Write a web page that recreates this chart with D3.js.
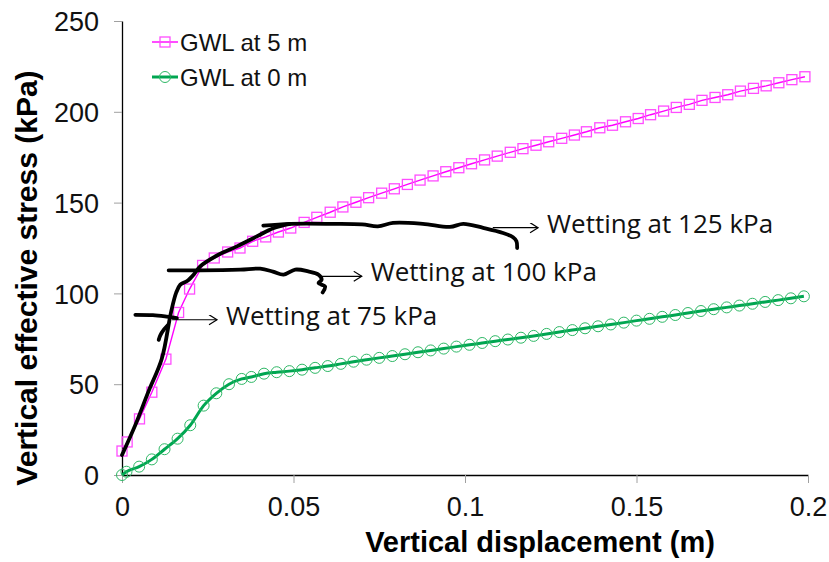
<!DOCTYPE html>
<html>
<head>
<meta charset="utf-8">
<script src="https://cdn.jsdelivr.net/npm/d3@7"></script>
<style>
body { margin: 0; background: #fff; }
text { font-family: 'Liberation Sans', Arial, sans-serif; }
.note { font-family: 'Open Sans', 'Noto Sans', sans-serif; }
</style>
</head>
<body>
<div id="chart"></div>
<script>
// values: [displacement (m), stress (kPa)]
var gwl5 = [
	[0,13.2],[0.0015,18.2],[0.0051,30.9],[0.0087,45.6],[0.0128,63.8],[0.0165,89.5],[0.0197,102.4],
	[0.0235,115.4],[0.0269,119.5],[0.0308,122.8],[0.0344,125.0],[0.0381,128.7],[0.0419,131.1],
	[0.0456,133.8],[0.0492,136.0],[0.0531,139.1],[0.0568,141.9],[0.0607,144.7],[0.0644,147.6],
	[0.0682,150.2],[0.0719,152.7],[0.0757,155.2],[0.0794,157.6],[0.0832,160.0],[0.0869,162.4],
	[0.0907,164.7],[0.0944,167.0],[0.0982,169.2],[0.1019,171.4],[0.1057,173.5],[0.1094,175.6],
	[0.1132,177.7],[0.1169,179.7],[0.1207,181.6],[0.1244,183.5],[0.1282,185.4],[0.1319,187.2],
	[0.1354,189.0],[0.1393,191.2],[0.1430,192.6],[0.1468,194.5],[0.1505,196.3],[0.1541,198.4],
	[0.1579,200.4],[0.1616,202.4],[0.1654,204.1],[0.1691,206.3],[0.1729,207.9],[0.1766,209.4],
	[0.1803,211.4],[0.1841,212.9],[0.1878,214.3],[0.1915,216.0],[0.1953,217.7],[0.1991,219.3]
]

var gwl0 = [
	[0,0],[0.0013,1.8],[0.005,4.6],[0.0087,8.6],[0.0124,14.2],[0.0162,20.0],[0.0199,27.4],
	[0.0238,38.2],[0.0275,45.0],[0.0312,50.0],[0.0349,52.9],[0.0377,54.0],[0.0414,55.8],
	[0.0451,56.6],[0.0488,57.2],[0.0525,58.0],[0.0563,59.0],[0.0600,60.0],[0.0638,61.2],
	[0.0675,62.4],[0.0713,63.5],[0.0750,64.5],[0.0788,65.5],[0.0825,66.5],[0.0863,67.6],
	[0.0900,68.6],[0.0938,69.6],[0.0975,70.7],[0.1013,71.7],[0.1050,72.7],[0.1088,73.7],
	[0.1125,74.6],[0.1163,75.6],[0.1200,76.6],[0.1238,77.7],[0.1275,78.7],[0.1313,79.8],
	[0.1350,80.8],[0.1388,81.9],[0.1425,82.9],[0.1463,83.9],[0.1500,85.0],[0.1538,86.0],
	[0.1575,87.1],[0.1613,88.1],[0.1650,89.2],[0.1688,90.3],[0.1725,91.3],[0.1763,92.3],
	[0.1800,93.3],[0.1838,94.3],[0.1875,95.3],[0.1913,96.3],[0.1950,97.3],[0.1988,98.4]
]

// hand drawn test curves
var loading = [
	[0,11.0],[0.0039,27.6],[0.0077,45.9],[0.0116,64.0],[0.0143,89.7],[0.0158,100.4],[0.0170,104.8],
	[0.0191,107.0],[0.0211,110.8],[0.0228,114.9],[0.0281,121.3],[0.0335,125.9],[0.0393,131.4],
	[0.0441,135.9],[0.0490,138.3]
]
var wet75 = [[0.0039,88.2],[0.0090,88.0],[0.0130,87.2],[0.0160,86.4]]
var wet75tail = [[0.0107,74.4],[0.0112,77.0],[0.0122,80.0],[0.0134,82.6]]
var wet100 = [
	[0.0136,112.7],[0.0228,112.7],[0.0345,113.1],[0.0403,113.6],[0.0440,112.0],[0.0471,110.3],
	[0.0505,113.1],[0.0543,112.1],[0.0573,110.3],[0.0582,107.5],[0.0573,105.7],[0.0592,103.8],
	[0.0585,100.5]
]
var wet125 = [
	[0.0412,137.3],[0.0490,138.3],[0.0615,138.3],[0.0700,138.0],[0.0746,136.9],[0.0790,138.8],
	[0.0877,138.3],[0.0956,136.6],[0.0995,138.3],[0.1053,136.1],[0.1111,133.3],[0.1140,130.9],
	[0.1150,128.7],[0.1152,125.0]
]

var arrowStarts = [[0.0146,85.5],[0.0582,109.4],[0.1081,136.2]]
var arrowEnds = [[0.0277,85.5],[0.0699,109.4],[0.1213,136.2]]
var arrowLabels = ['Wetting at 75 kPa','Wetting at 100 kPa','Wetting at 125 kPa']

var seriesNames = ['GWL at 5 m','GWL at 0 m']
var xTicks = [0,0.05,0.1,0.15,0.2]
var xTickLabels = ['0','0.05','0.1','0.15','0.2']
var yTicks = [0,50,100,150,200,250]

var width = 829, height = 562
var margin = {'top':21,'bottom':87,'left':122,'right':21}
var w = width - margin.left - margin.right
var h = height - margin.top - margin.bottom

var pink = '#ff00ff', pinkMark = '#ff4dff'
var green = '#00a651', greenMark = '#2fb866'

var svg = d3.select('#chart').append('svg')
	.attr('width',width)
	.attr('height',height)

svg.append('defs').append('marker')
	.attr('id','head')
	.attr('markerUnits','userSpaceOnUse')
	.attr('markerWidth',12).attr('markerHeight',12)
	.attr('refX',9).attr('refY',5)
	.attr('orient','auto')
	.append('path')
	.attr('d','M1,0 L9,5 L1,10')
	.attr('fill','none')
	.attr('stroke','#000')
	.attr('stroke-width',1.2)

var g = svg.append('g').attr('transform','translate('+margin.left+','+margin.top+')')

var x = d3.scaleLinear().domain([0,0.2]).range([0,w])
var y = d3.scaleLinear().domain([0,250]).range([h,0])

// axes
var xAxis = g.append('g')
	.attr('transform','translate(0,'+h+')')
	.call(d3.axisBottom(x).tickValues(xTicks).tickSize(8).tickSizeOuter(0).tickPadding(14)
		.tickFormat(function(d,i){ return xTickLabels[i] }))
var yAxis = g.append('g')
	.call(d3.axisLeft(y).tickValues(yTicks).tickSize(8).tickSizeOuter(0).tickPadding(15))

;[xAxis,yAxis].forEach(function(a){
	a.select('.domain').attr('stroke','#000').attr('stroke-width',1.3)
	a.selectAll('.tick line').attr('stroke','#a0a0a0')
	a.selectAll('.tick text')
		.attr('fill','#111')
		.style('font-family',"'Liberation Sans', Arial, sans-serif")
		.style('font-size','27px')
})
xAxis.selectAll('.tick text').attr('dy','0.71em')
yAxis.selectAll('.tick text').attr('dy','0.36em')

svg.append('text')
	.attr('x',540).attr('y',552)
	.attr('text-anchor','middle')
	.style('font-size','29px').style('font-weight','bold')
	.text('Vertical displacement (m)')

svg.append('text')
	.attr('transform','translate(37,278) rotate(-90)')
	.attr('text-anchor','middle')
	.style('font-size','30px').style('font-weight','bold')
	.text('Vertical effective stress (kPa)')

var line = d3.line().x(function(d){ return x(d[0]) }).y(function(d){ return y(d[1]) })
var smooth = d3.line().curve(d3.curveMonotoneX).x(function(d){ return x(d[0]) }).y(function(d){ return y(d[1]) })
var hand = d3.line().curve(d3.curveCatmullRom).x(function(d){ return x(d[0]) }).y(function(d){ return y(d[1]) })

// model series
g.append('path').datum(gwl0).attr('d',smooth)
	.attr('fill','none').attr('stroke',green).attr('stroke-width',3)
g.selectAll('.c0').data(gwl0).enter().append('circle')
	.attr('class','c0')
	.attr('cx',function(d){ return x(d[0]) })
	.attr('cy',function(d){ return y(d[1]) })
	.attr('r',5.5)
	.attr('fill','none').attr('stroke',greenMark).attr('stroke-width',1)

g.append('path').datum(gwl5).attr('d',line)
	.attr('fill','none').attr('stroke',pink).attr('stroke-width',1.4)
g.selectAll('.s5').data(gwl5).enter().append('rect')
	.attr('class','s5')
	.attr('x',function(d){ return x(d[0]) - 5 })
	.attr('y',function(d){ return y(d[1]) - 5 })
	.attr('width',10).attr('height',10)
	.attr('fill','none').attr('stroke',pinkMark).attr('stroke-width',1.3)

// wetting tests
;[loading,wet75,wet75tail,wet100,wet125].forEach(function(d){
	g.append('path').datum(d).attr('d',hand)
		.attr('fill','none').attr('stroke','#000')
		.attr('stroke-width',3.8)
		.attr('stroke-linecap','round').attr('stroke-linejoin','round')
})

arrowLabels.forEach(function(label,i){
	var s = arrowStarts[i], e = arrowEnds[i]
	g.append('line')
		.attr('x1',x(s[0])).attr('y1',y(s[1]))
		.attr('x2',x(e[0])).attr('y2',y(e[1]))
		.attr('stroke','#000').attr('stroke-width',1.1)
		.attr('marker-end','url(#head)')
	g.append('text').attr('class','note')
		.attr('x',x(e[0]) + 9).attr('y',y(e[1]) + 5)
		.attr('fill','#111')
		.style('font-size','26px')
		.text(label)
})

// legend
var legend = svg.append('g').attr('transform','translate(152,0)')
var ly = [42,77]
legend.append('line').attr('x1',0).attr('x2',26).attr('y1',ly[0]).attr('y2',ly[0])
	.attr('stroke',pink).attr('stroke-width',1.4)
legend.append('rect').attr('x',8).attr('y',ly[0]-5).attr('width',10).attr('height',10)
	.attr('fill','none').attr('stroke',pinkMark).attr('stroke-width',1.3)
legend.append('line').attr('x1',0).attr('x2',26).attr('y1',ly[1]).attr('y2',ly[1])
	.attr('stroke',green).attr('stroke-width',3)
legend.append('circle').attr('cx',13).attr('cy',ly[1]).attr('r',5.5)
	.attr('fill','none').attr('stroke',greenMark).attr('stroke-width',1)
seriesNames.forEach(function(n,i){
	legend.append('text')
		.attr('x',28).attr('y',ly[i] + 8.5)
		.style('font-size','24px')
		.attr('fill','#111')
		.text(n)
})
</script>
</body>
</html>
